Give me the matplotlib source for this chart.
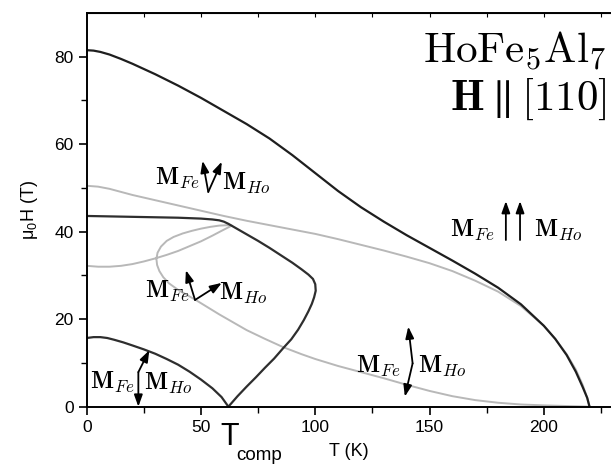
import matplotlib
matplotlib.use("Agg")
import matplotlib.pyplot as plt
import numpy as np

plt.rcParams["font.family"] = ["Liberation Sans", "DejaVu Sans"]
plt.rcParams["mathtext.fontset"] = "custom"
plt.rcParams["mathtext.rm"] = "Liberation Sans"

# upper black boundary
t_top = [0, 3, 6, 10, 15, 20, 25, 30, 40, 50, 60, 70, 80, 90, 100, 110, 120, 130, 140, 150,
         160, 170, 180, 190, 200, 205, 210, 214, 217, 219, 220]
h_top = [81.5, 81.4, 81.1, 80.5, 79.5, 78.4, 77.2, 76.0, 73.4, 70.6, 67.6, 64.6, 61.3, 57.5, 53.4, 49.3, 45.6, 42.3, 39.2, 36.3,
         33.4, 30.4, 27.2, 23.4, 18.5, 15.5, 11.8, 8.0, 4.5, 2.0, 0.0]

# upper grey line
t_grey1 = [0, 5, 10, 20, 30, 40, 50, 60, 70, 80, 90, 100, 110, 120, 130, 140, 150, 160, 170, 180,
           190, 200, 205, 210, 214, 217, 219, 220]
h_grey1 = [50.5, 50.3, 49.8, 48.4, 47.2, 46.0, 44.8, 43.6, 42.5, 41.5, 40.5, 39.5, 38.3, 37.0, 35.7, 34.3, 32.8, 31.0, 28.8, 26.3,
           23.0, 18.5, 15.5, 12.0, 8.5, 5.0, 2.0, 0.0]

# middle black boundary
t_mid = [0, 10, 20, 30, 40, 50, 55, 58, 60, 62, 65, 70, 75, 80, 85, 90, 94, 97, 99, 100, 100.2,
         99.5, 98.5, 97, 95, 92.5, 89.5, 86, 82, 78, 74, 70, 66, 62]
h_mid = [43.6, 43.5, 43.4, 43.3, 43.2, 43.0, 42.8, 42.6, 42.3, 41.8, 40.9, 39.4, 37.9, 36.3, 34.6, 32.9, 31.4, 30.2, 29.2, 28.0, 26.5,
         25.0, 23.5, 21.8, 19.8, 17.6, 15.4, 13.4, 11.0, 8.9, 6.7, 4.6, 2.4, 0.0]

# lower black boundary
t_low = [0, 3, 6, 9, 12, 16, 20, 25, 30, 35, 40, 45, 50, 55, 59, 62]
h_low = [15.7, 15.9, 15.9, 15.7, 15.3, 14.7, 14.0, 13.1, 12.1, 10.9, 9.6, 8.0, 6.2, 4.2, 2.2, 0.0]

# grey loop line
t_loop = [0, 5, 10, 15, 20, 25, 30, 35, 40, 45, 50, 55, 59, 62, 63.5,
          62, 58, 54, 50, 46, 42, 38, 35, 32.5, 31, 30.5, 30.8, 31.8, 33.5, 36, 40, 44, 48, 53,
          58, 64, 70, 78, 86, 94, 100, 110, 120, 130, 140, 150, 160, 170, 180, 190, 200, 210, 220]
h_loop = [32.2, 32.0, 32.0, 32.2, 32.6, 33.2, 33.9, 34.7, 35.6, 36.7, 37.8, 39.1, 40.2, 41.0, 41.4,
          41.5, 41.4, 41.1, 40.7, 40.2, 39.6, 38.8, 37.9, 36.6, 35.2, 33.8, 32.4, 31.0, 29.6, 28.2, 26.7, 25.5, 24.3, 22.7,
          21.1, 19.3, 17.5, 15.5, 13.6, 12.0, 10.9, 9.3, 7.9, 6.5, 5.0, 3.6, 2.4, 1.5, 0.9, 0.5, 0.3, 0.15, 0.0]

# moment labels: (T, H) of M_Fe and M_Ho texts
fe_pos = [(39.5, 52.2), (35.1, 26.4), (11.1, 5.6), (127.4, 9.1), (168.5, 40.4)]
ho_pos = [(69.7, 51.1), (68.4, 26.0), (35.5, 5.4), (155.4, 9.1), (206.2, 40.4)]

# arrows: (tail, head)
arrows = [
    ((53.2, 49.1), (50.7, 56.2)),
    ((53.2, 49.1), (59.1, 56.0)),
    ((47.4, 24.4), (43.4, 31.2)),
    ((47.4, 24.4), (59.1, 28.3)),
    ((22.6, 7.9), (22.6, 0.0)),
    ((22.6, 7.9), (27.4, 12.9)),
    ((183.4, 38.1), (183.4, 47.0)),
    ((189.6, 38.1), (189.6, 47.0)),
    ((142.6, 9.9), (140.7, 18.3)),
    ((142.6, 9.9), (139.2, 2.3)),
]

fig = plt.figure(figsize=(6.11, 4.66), dpi=100)
ax = fig.add_axes([0.1419, 0.1273, 0.8581, 0.8448])

black = "#1e1e1e"
grey = "#b8b8b8"
ax.plot(t_grey1, h_grey1, color=grey, lw=1.4)
ax.plot(t_loop, h_loop, color=grey, lw=1.4)
ax.plot(t_top, h_top, color=black, lw=1.6)
ax.plot(t_mid, h_mid, color="#2e2e2e", lw=1.6)
ax.plot(t_low, h_low, color="#2e2e2e", lw=1.6)

for (x0, y0), (x1, y1) in arrows:
    ax.annotate("", xy=(x1, y1), xytext=(x0, y0),
                arrowprops=dict(arrowstyle="-|>,head_length=0.5,head_width=0.18",
                                color="k", lw=1.3, mutation_scale=14,
                                shrinkA=0, shrinkB=0))

for x, y in fe_pos:
    ax.text(x, y, r"$\mathbf{M}_{Fe}$", fontsize=17.5, ha="center", va="center",
            math_fontfamily="cm")
for x, y in ho_pos:
    ax.text(x, y, r"$\mathbf{M}_{Ho}$", fontsize=17.5, ha="center", va="center",
            math_fontfamily="cm")

ax.text(0.992, 0.873, r"$\mathrm{HoFe}_5\mathrm{Al}_7$", transform=ax.transAxes,
        fontsize=31, ha="right", va="baseline", math_fontfamily="cm")
ax.text(0.992, 0.754, r"$\mathbf{H}\parallel[110]$", transform=ax.transAxes,
        fontsize=31, ha="right", va="baseline", math_fontfamily="cm")

# T_comp marker below the axis
ax.text(58.4, -8.75, "T", fontsize=22, ha="left", va="baseline", clip_on=False)
ax.text(65.4, -12.2, "comp", fontsize=13.5, ha="left", va="baseline", clip_on=False)

ax.set_xlim(0, 229.4)
ax.set_ylim(0, 90)
ax.set_xticks([0, 50, 100, 150, 200])
ax.set_xticks(np.arange(25, 230, 50), minor=True)
ax.set_yticks([0, 20, 40, 60, 80])
ax.set_yticks([10, 30, 50, 70], minor=True)
ax.tick_params(axis="both", which="major", labelsize=12.5, length=6, width=1.2,
               direction="out", top=False, right=False)
ax.tick_params(axis="both", which="minor", length=4, width=1.0, direction="out",
               top=False, right=False)
ax.spines["right"].set_visible(False)
for s in ["left", "bottom", "top"]:
    ax.spines[s].set_linewidth(1.4)

top = ax.secondary_xaxis("top")
top.set_xticks(np.arange(25, 230, 25))
top.tick_params(direction="in", length=3, width=0.8, labeltop=False)

ax.set_xlabel("T (K)", fontsize=13, labelpad=6)
ax.set_ylabel(r"μ$_\mathrm{0}$H (T)", fontsize=13, labelpad=10)

fig.savefig("out.png", dpi=100)
